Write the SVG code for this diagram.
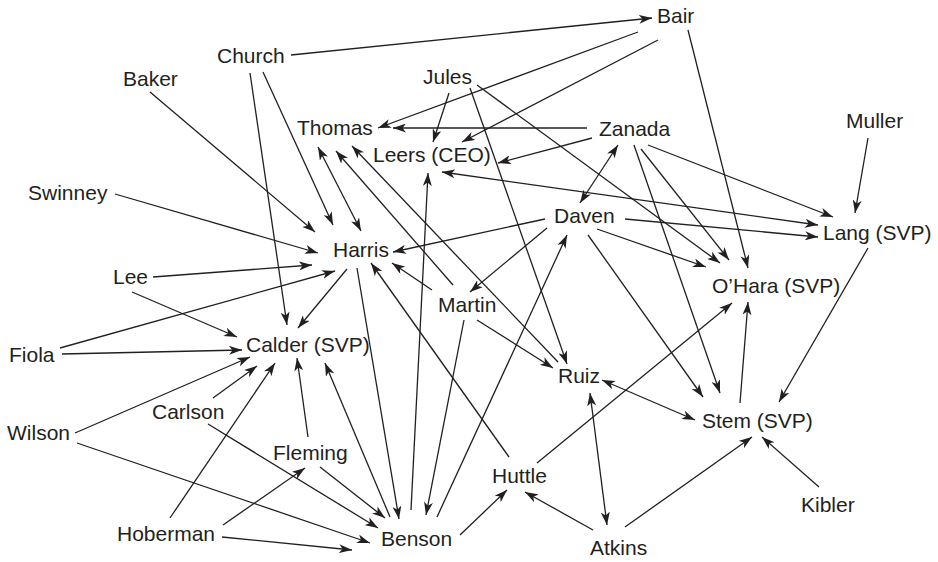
<svg xmlns="http://www.w3.org/2000/svg" width="938" height="562" viewBox="0 0 938 562">
  <style>
    .lbl { font-family: "Liberation Sans", Arial, sans-serif; font-size: 21px; fill: #231f20; }
    .e { stroke: #231f20; stroke-width: 1.3; fill: none; marker-end: url(#ah); }
    .d { marker-start: url(#ah); }
  </style>
  <defs>
    <marker id="ah" viewBox="0 0 13 9" refX="13" refY="4.5" markerWidth="13" markerHeight="9" markerUnits="userSpaceOnUse" orient="auto-start-reverse">
      <path d="M0,0 L13,4.5 L0,9 L3.5,4.5 Z" fill="#231f20"/>
    </marker>
  </defs>
  <rect width="938" height="562" fill="#ffffff"/>

  <g id="connectors">
    <line class="e" x1="291" y1="55" x2="652" y2="18"/>
    <line class="e" x1="638" y1="32" x2="378" y2="128"/>
    <line class="e" x1="658" y1="40" x2="462" y2="142"/>
    <line class="e" x1="688" y1="30" x2="748" y2="268"/>
    <line class="e" x1="587" y1="128" x2="393" y2="128"/>
    <line class="e" x1="592" y1="138" x2="498" y2="163"/>
    <line class="e" x1="449" y1="93" x2="433" y2="142"/>
    <line class="e" x1="470" y1="88" x2="567" y2="364"/>
    <line class="e" x1="477" y1="85" x2="720" y2="263"/>
    <line class="e" x1="648" y1="145" x2="833" y2="217"/>
    <line class="e" x1="634" y1="145" x2="720" y2="393"/>
    <line class="e d" x1="618" y1="145" x2="580" y2="203"/>
    <line class="e" x1="641" y1="149" x2="729" y2="260"/>
    <line class="e" x1="625" y1="219" x2="818" y2="237"/>
    <line class="e d" x1="442" y1="172" x2="818" y2="225"/>
    <line class="e" x1="545" y1="219" x2="393" y2="252"/>
    <line class="e" x1="547" y1="228" x2="470" y2="292"/>
    <line class="e" x1="437" y1="517" x2="567" y2="235"/>
    <line class="e" x1="597" y1="229" x2="706" y2="267"/>
    <line class="e" x1="588" y1="235" x2="703" y2="397"/>
    <line class="e" x1="868" y1="138" x2="855" y2="213"/>
    <line class="e" x1="868" y1="248" x2="779" y2="402"/>
    <line class="e" x1="740" y1="403" x2="748" y2="302"/>
    <line class="e" x1="537" y1="463" x2="732" y2="303"/>
    <line class="e d" x1="602" y1="380" x2="695" y2="420"/>
    <line class="e d" x1="590" y1="393" x2="607" y2="525"/>
    <line class="e" x1="593" y1="530" x2="525" y2="492"/>
    <line class="e" x1="625" y1="527" x2="752" y2="437"/>
    <line class="e" x1="819" y1="487" x2="762" y2="437"/>
    <line class="e" x1="460" y1="535" x2="507" y2="490"/>
    <line class="e" x1="509" y1="457" x2="371" y2="263"/>
    <line class="e" x1="432" y1="290" x2="392" y2="263"/>
    <line class="e" x1="453" y1="285" x2="336" y2="151"/>
    <line class="e" x1="558" y1="362" x2="352" y2="146"/>
    <line class="e d" x1="318" y1="147" x2="361" y2="231"/>
    <line class="e" x1="263" y1="72" x2="333" y2="225"/>
    <line class="e" x1="250" y1="73" x2="287" y2="325"/>
    <line class="e" x1="150" y1="92" x2="315" y2="232"/>
    <line class="e" x1="115" y1="194" x2="318" y2="253"/>
    <line class="e" x1="153" y1="277" x2="312" y2="265"/>
    <line class="e" x1="60" y1="348" x2="335" y2="271"/>
    <line class="e" x1="132" y1="292" x2="237" y2="337"/>
    <line class="e" x1="62" y1="354" x2="242" y2="350"/>
    <line class="e" x1="347" y1="269" x2="298" y2="328"/>
    <line class="e" x1="75" y1="433" x2="250" y2="357"/>
    <line class="e" x1="213" y1="398" x2="257" y2="366"/>
    <line class="e" x1="170" y1="518" x2="275" y2="363"/>
    <line class="e" x1="308" y1="437" x2="297" y2="358"/>
    <line class="e" x1="390" y1="517" x2="325" y2="363"/>
    <line class="e" x1="411" y1="510" x2="428" y2="173"/>
    <line class="e" x1="464" y1="320" x2="426" y2="515"/>
    <line class="e" x1="357" y1="268" x2="399" y2="519"/>
    <line class="e" x1="477" y1="320" x2="553" y2="368"/>
    <line class="e" x1="320" y1="467" x2="385" y2="518"/>
    <line class="e" x1="208" y1="424" x2="378" y2="528"/>
    <line class="e" x1="77" y1="443" x2="370" y2="543"/>
    <line class="e" x1="222" y1="537" x2="352" y2="550"/>
    <line class="e" x1="223" y1="525" x2="305" y2="468"/>
  </g>

  <g id="bair"><text class="lbl" x="657" y="23">Bair</text></g>
  <g id="church"><text class="lbl" x="217" y="63">Church</text></g>
  <g id="baker"><text class="lbl" x="123" y="86">Baker</text></g>
  <g id="jules"><text class="lbl" x="423" y="84">Jules</text></g>
  <g id="thomas"><text class="lbl" x="297" y="135">Thomas</text></g>
  <g id="leers"><text class="lbl" x="373" y="162">Leers (CEO)</text></g>
  <g id="zanada"><text class="lbl" x="599" y="136">Zanada</text></g>
  <g id="muller"><text class="lbl" x="846" y="128">Muller</text></g>
  <g id="swinney"><text class="lbl" x="28" y="200">Swinney</text></g>
  <g id="daven"><text class="lbl" x="554" y="223">Daven</text></g>
  <g id="lang"><text class="lbl" x="823" y="240">Lang (SVP)</text></g>
  <g id="harris"><text class="lbl" x="333" y="257">Harris</text></g>
  <g id="lee"><text class="lbl" x="113" y="284">Lee</text></g>
  <g id="ohara"><text class="lbl" x="712" y="293">O’Hara (SVP)</text></g>
  <g id="martin"><text class="lbl" x="438" y="312">Martin</text></g>
  <g id="fiola"><text class="lbl" x="9" y="362">Fiola</text></g>
  <g id="calder"><text class="lbl" x="246" y="352">Calder (SVP)</text></g>
  <g id="ruiz"><text class="lbl" x="558" y="383">Ruiz</text></g>
  <g id="carlson"><text class="lbl" x="152" y="419">Carlson</text></g>
  <g id="stem"><text class="lbl" x="702" y="428">Stem (SVP)</text></g>
  <g id="wilson"><text class="lbl" x="7" y="440">Wilson</text></g>
  <g id="fleming"><text class="lbl" x="273" y="460">Fleming</text></g>
  <g id="huttle"><text class="lbl" x="492" y="483">Huttle</text></g>
  <g id="kibler"><text class="lbl" x="801" y="512">Kibler</text></g>
  <g id="hoberman"><text class="lbl" x="117" y="541">Hoberman</text></g>
  <g id="benson"><text class="lbl" x="381" y="546">Benson</text></g>
  <g id="atkins"><text class="lbl" x="590" y="555">Atkins</text></g>
</svg>
